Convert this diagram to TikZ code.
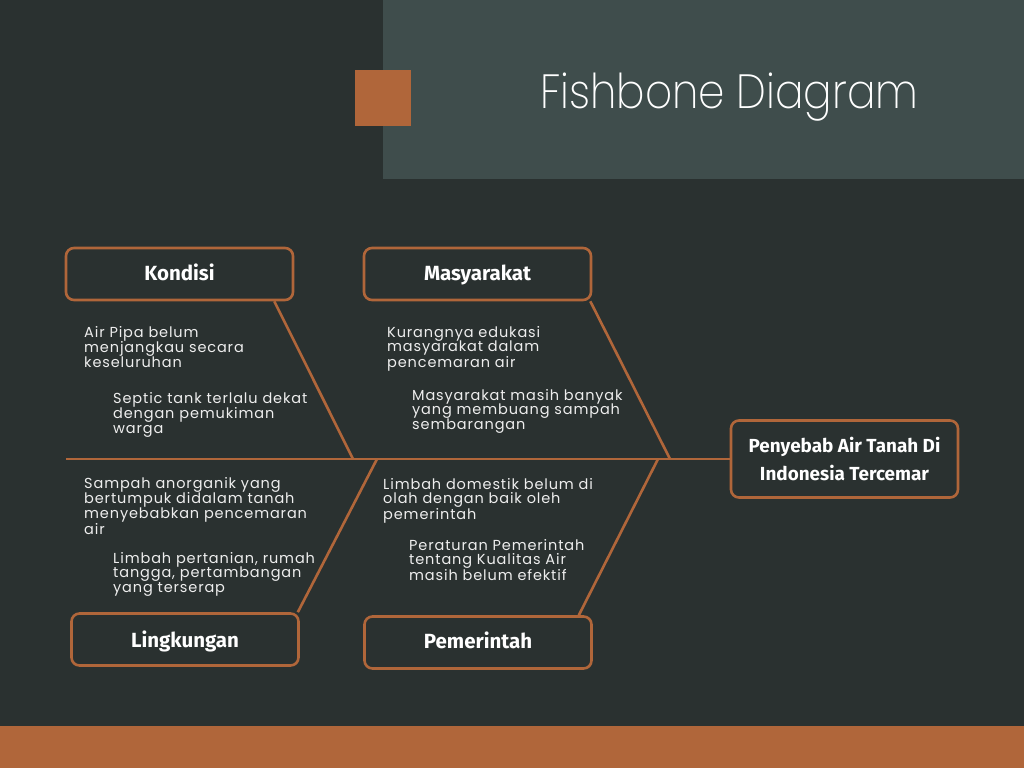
\documentclass[tikz,border=0pt]{standalone}
\usepackage{fontspec}
\newfontfamily\bodyfont{Poppins}[LetterSpace=6]
\newfontfamily\labelfont{Fira Sans}
\newfontfamily\titlefont{Poppins ExtraLight}[FakeStretch=0.88]
\definecolor{bg}{RGB}{42,49,48}
\definecolor{panel}{RGB}{63,77,76}
\definecolor{accent}{RGB}{176,102,58}
\definecolor{fgtext}{RGB}{238,238,238}
\begin{document}
\begin{tikzpicture}[x=1pt,y=-1pt,
  catbox/.style={draw=accent, line width=2.6pt, rounded corners=8pt, fill=bg,
    minimum width=227pt, minimum height=52pt, inner sep=0pt, text=white,
    text height=16pt, text depth=4pt,
    font=\labelfont\bfseries\fontsize{20.5}{24}\selectfont},
  bone/.style={draw=accent, line width=2.6pt},
  cause/.style={text=fgtext, anchor=base west, inner sep=0pt, text width=260pt,
    align=left, font=\bodyfont\fontsize{14.5}{14.7}\selectfont}]
% background, header panel, accent square and footer band
\fill[bg] (0,0) rectangle (1024,768);
\fill[panel] (383,0) rectangle (1024,179);
\fill[accent] (355,70) rectangle (411,126);
\fill[accent] (0,726) rectangle (1024,768);
\node[anchor=base west, inner sep=0pt, text=white,
  font=\titlefont\fontsize{48}{48}\selectfont] (title) at (540,108) {Fishbone Diagram};

% category boxes and the effect box
\node[catbox] (kondisi) at (179.5,274) {Kondisi};
\node[catbox] (masyarakat) at (477.5,274) {Masyarakat};
\node[catbox, text depth=1pt] (lingkungan) at (185,639.5) {Lingkungan};
\node[catbox] (pemerintah) at (478,642.5) {Pemerintah};
\node[catbox, minimum height=77pt, align=center, text height=, text depth=,
  font=\labelfont\bfseries\fontsize{18.9}{28}\selectfont] (head) at (844.5,459)
  {Penyebab Air Tanah Di\\Indonesia Tercemar};

% spine and bones
\coordinate (tail) at (66,459);
\coordinate (kj) at (353,459);
\coordinate (mj) at (670,459);
\coordinate (lj) at (377,459);
\coordinate (pj) at (658,459);
\draw[bone] (tail) -- (head.west);
\draw[bone] ([xshift=-20pt]kondisi.south east) -- (kj);
\draw[bone] ([xshift=-2pt]masyarakat.south east) -- (mj);
\draw[bone] ([xshift=-2pt]lingkungan.north east) -- (lj);
\draw[bone] ([xshift=-14pt]pemerintah.north east) -- (pj);

% causes
\node[cause] (k1) at (84,337) {Air Pipa belum\\menjangkau secara\\keseluruhan};
\node[cause] (k2) at (113,403) {Septic tank terlalu dekat\\dengan pemukiman\\warga};
\node[cause] (m1) at (387,337) {Kurangnya edukasi\\masyarakat dalam\\pencemaran air};
\node[cause] (m2) at (412,400) {Masyarakat masih banyak\\yang membuang sampah\\sembarangan};
\node[cause] (l1) at (84,488) {Sampah anorganik yang\\bertumpuk didalam tanah\\menyebabkan pencemaran\\air};
\node[cause] (l2) at (113,563) {Limbah pertanian, rumah\\tangga, pertambangan\\yang terserap};
\node[cause] (p1) at (383,489) {Limbah domestik belum di\\olah dengan baik oleh\\pemerintah};
\node[cause] (p2) at (409,550) {Peraturan Pemerintah\\tentang Kualitas Air\\masih belum efektif};
\end{tikzpicture}
\end{document}
